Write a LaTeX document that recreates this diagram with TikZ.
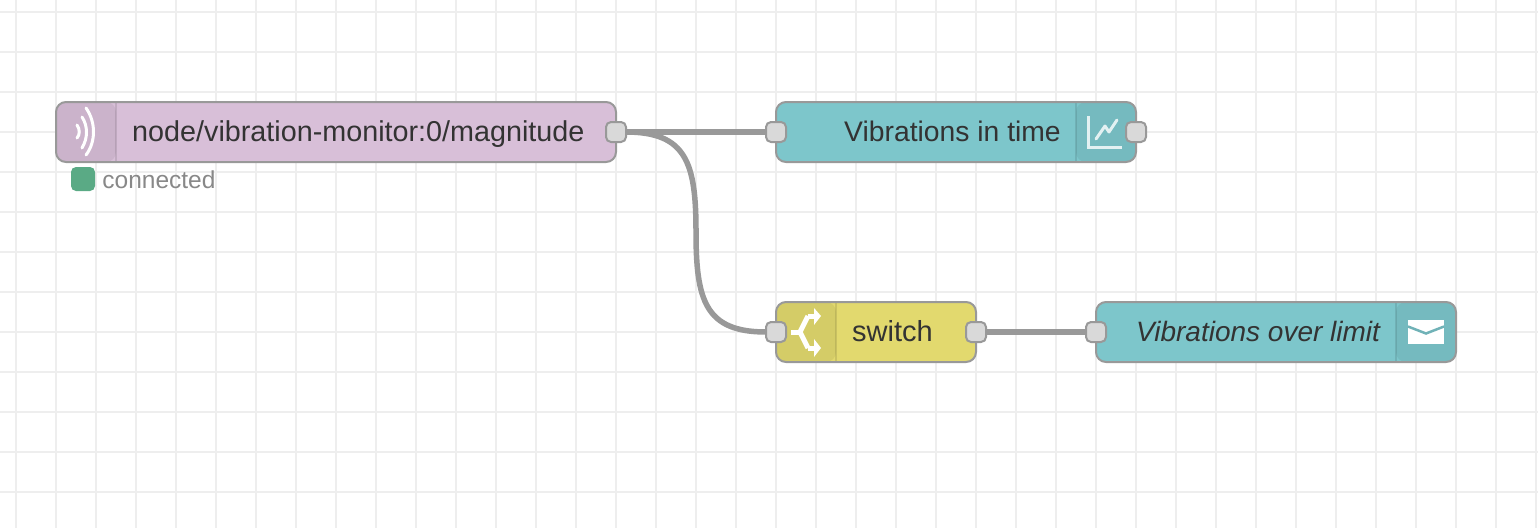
\documentclass[tikz,border=0pt]{standalone}
\usepackage{fontspec}
\setmainfont{Liberation Sans}
\usetikzlibrary{positioning}
\definecolor{gridline}{RGB}{238, 238, 238}
\definecolor{wiregrey}{RGB}{153, 153, 153}
\definecolor{portfill}{RGB}{217, 217, 217}
\definecolor{mqttfill}{RGB}{216, 191, 216}
\definecolor{dashfill}{RGB}{125, 198, 203}
\definecolor{switchfill}{RGB}{226, 217, 110}
\definecolor{statusgreen}{RGB}{90, 170, 133}
\definecolor{labeltext}{RGB}{51, 51, 51}
\definecolor{statustext}{RGB}{136, 136, 136}
\tikzset{
    flownode/.style={draw=wiregrey, line width=2pt, rounded corners=10pt,
        minimum height=60pt, inner sep=0pt, outer sep=0pt},
    iconleft/.style={path picture={
        \fill[black, opacity=.06] (path picture bounding box.north west)
            rectangle ([xshift=60pt]path picture bounding box.south west);
        \draw[black, opacity=.1, line width=2pt]
            ([xshift=60pt]path picture bounding box.north west)
            -- ([xshift=60pt]path picture bounding box.south west);
    }},
    iconright/.style={path picture={
        \fill[black, opacity=.06] (path picture bounding box.north east)
            rectangle ([xshift=-60pt]path picture bounding box.south east);
        \draw[black, opacity=.1, line width=2pt]
            ([xshift=-60pt]path picture bounding box.north east)
            -- ([xshift=-60pt]path picture bounding box.south east);
    }},
    flowport/.style={draw=wiregrey, fill=portfill, line width=2pt,
        rounded corners=5pt, minimum size=20pt, inner sep=0pt, outer sep=0pt},
    flowlabel/.style={anchor=base west, inner sep=0pt, text=labeltext,
        font=\fontsize{28.3}{34}\selectfont},
    wire/.style={draw=wiregrey, line width=5.5pt},
    iconline/.style={draw=white, line width=3pt, line cap=round},
}
\begin{document}
\begin{tikzpicture}[x=1pt, y=-1pt]
    \useasboundingbox (0, 0) rectangle (1538, 528);
    \fill[white] (0, 0) rectangle (1538, 528);
    \foreach \gx in {16, 56, ..., 1536} {
        \draw[gridline, line width=2pt] (\gx, 0) -- (\gx, 528);
    }
    \foreach \gy in {12, 52, ..., 492} {
        \draw[gridline, line width=2pt] (0, \gy) -- (1538, \gy);
    }

    % Node bodies
    \node[flownode, iconleft, fill=mqttfill, minimum width=560pt] (mqttin)
        at (336, 132) {};
    \node[flownode, iconright, fill=dashfill, minimum width=360pt] (chart)
        at (956, 132) {};
    \node[flownode, iconleft, fill=switchfill, minimum width=200pt] (switch)
        at (876, 332) {};
    \node[flownode, iconright, fill=dashfill, minimum width=360pt] (email)
        at (1276, 332) {};

    \node[flowlabel, font=\fontsize{28.75}{34}\selectfont] (mqttlabel) at (132, 141)
        {node/vibration-monitor:0/magnitude};
    \node[flowlabel] (chartlabel) at (844, 141) {Vibrations in time};
    \node[flowlabel, font=\fontsize{29}{34}\selectfont] (switchlabel) at (852, 341)
        {switch};
    \node[flowlabel, font=\fontsize{28}{34}\selectfont\itshape] (emaillabel)
        at (1136, 341) {Vibrations over limit};

    % Ports
    \node[flowport] (mqttout) at (mqttin.east) {};
    \node[flowport] (chartin) at (chart.west) {};
    \node[flowport] (chartout) at (chart.east) {};
    \node[flowport] (switchin) at (switch.west) {};
    \node[flowport] (switchout) at (switch.east) {};
    \node[flowport] (emailin) at (email.west) {};

    % Wires
    \coordinate (wiremid) at (696, 232);
    \draw[wire] (mqttout) -- (chartin);
    \draw[wire] (mqttout.east) .. controls (687, 132) and (696, 164) .. (wiremid)
        .. controls (696, 300) and (705, 332) .. (switchin.west);
    \draw[wire] (switchout) -- (emailin);

    % Status
    \node[fill=statusgreen, rounded corners=5pt, minimum size=24pt, inner sep=0pt]
        (statusdot) at (83, 179) {};
    \node[right=7pt of statusdot, yshift=-1pt, inner sep=0pt, text=statustext,
        font=\fontsize{24.5}{30}\selectfont] (statuslabel) {connected};

    % Icons
    \draw[iconline] (77, 125) .. controls (80, 129) and (80, 135) .. (77, 138);
    \draw[iconline] (82, 117) .. controls (88, 126) and (88, 138) .. (82, 148);
    \draw[iconline] (86, 108) .. controls (96, 122) and (96, 142) .. (86, 155);
    \draw[iconline, opacity=.8, line cap=butt] (1088, 116) -- (1088, 147) -- (1122, 147);
    \draw[iconline, opacity=.8, line join=round]
        (1096, 139) -- (1105, 126) -- (1109, 132) -- (1117, 120);
    \fill[white] (1408, 320) rectangle (1444, 344);
    \draw[dashfill!90!black, line width=2.5pt]
        (1408, 326.5) -- (1426, 333.5) -- (1444, 326.5);
    \draw[white, line width=5pt] (791, 332) -- (802, 332)
        (808, 316) -- (816, 316) (808, 348) -- (816, 348);
    \draw[white, line width=5pt] (800, 332) -- (808, 316) (800, 332) -- (808, 348);
    \fill[white] (814, 308) -- (821, 316) -- (814, 325) -- cycle;
    \fill[white] (814, 339) -- (821, 348) -- (814, 357) -- cycle;
\end{tikzpicture}
\end{document}
